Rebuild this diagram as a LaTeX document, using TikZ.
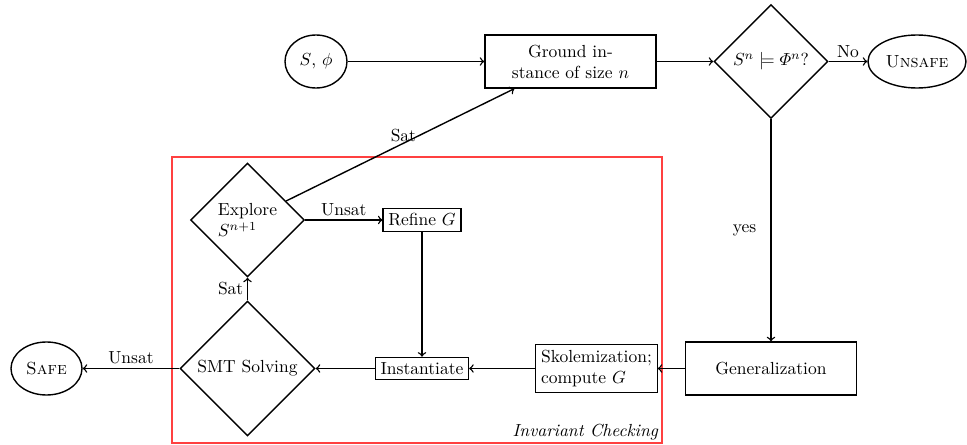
\documentclass[tikz,border=0pt]{standalone}
\usepackage{amsmath}
\usetikzlibrary{shapes.geometric}
\begin{document}
\begin{tikzpicture}[x=0.5714pt,y=-0.5714pt,
  bigbox/.style={draw,thick,rectangle,minimum width=#1*0.5714pt,minimum height=53*0.5714pt,inner sep=0pt},
  smallbox/.style={draw,semithick,rectangle,inner sep=3pt},
  ell/.style={draw,thick,ellipse,inner sep=0pt},
  dia/.style={draw,thick,diamond,inner sep=0pt,minimum width=#1*0.5714pt,minimum height=#1*0.5714pt},
  conn/.style={->,thick},
  lbl/.style={inner sep=2pt}]
\useasboundingbox (0,0) rectangle (967,445);
% invariant checking frame
\draw[red!75,semithick] (172,157) rectangle (662,443);
\node[anchor=south east,inner sep=1pt,font=\itshape] (invlbl) at (660,442) {Invariant Checking};
% nodes
\node[ell,minimum width=62*0.5714pt,minimum height=53*0.5714pt] (sphi) at (316,61.5) {$S$, $\phi$};
\node[bigbox=171,align=center] (ground) at (570.5,61.5) {Ground in-\\stance of size $n$};
\node[dia=114] (check) at (771,61.5) {$S^n \models \varPhi^n$?};
\node[ell,minimum width=98*0.5714pt,minimum height=53*0.5714pt] (unsafe) at (917,61.5) {\textsc{Unsafe}};
\node[bigbox=171] (gen) at (771,368.5) {Generalization};
\node[smallbox,align=left,minimum height=47*0.5714pt] (skol) at (596.5,368.5) {Skolemization;\\compute $G$};
\node[smallbox] (inst) at (422,368.5) {Instantiate};
\node[dia=135] (smt) at (247.5,368.5) {SMT Solving};
\node[ell,minimum width=71*0.5714pt,minimum height=53*0.5714pt] (safe) at (46.5,368.5) {\textsc{Safe}};
\node[dia=114,align=left] (explore) at (247.5,220) {Explore\\$S^{n+1}$};
\node[smallbox] (refine) at (422,220) {Refine $G$};
\coordinate (gin) at ([xshift=30*0.5714pt]ground.south west);
% connectors
\draw[conn] (sphi) -- (ground);
\draw[conn] (ground) -- (check);
\draw[conn] (check) -- node[lbl,above] {No} (unsafe);
\draw[conn] (check) -- node[lbl,left=6pt] {yes} (gen);
\draw[conn] (gen) -- (skol);
\draw[conn] (skol) -- (inst);
\draw[conn] (inst) -- (smt);
\draw[conn] (smt) -- node[lbl,above] {Unsat} (safe);
\draw[conn] (smt) -- node[lbl,left] {Sat} (explore);
\draw[conn] (explore) -- node[lbl,above] {Unsat} (refine);
\draw[conn] (refine) -- (inst);
\draw[conn] (explore) -- node[pos=0.58,anchor=east,inner sep=1pt] {Sat} (gin);
\end{tikzpicture}
\end{document}
